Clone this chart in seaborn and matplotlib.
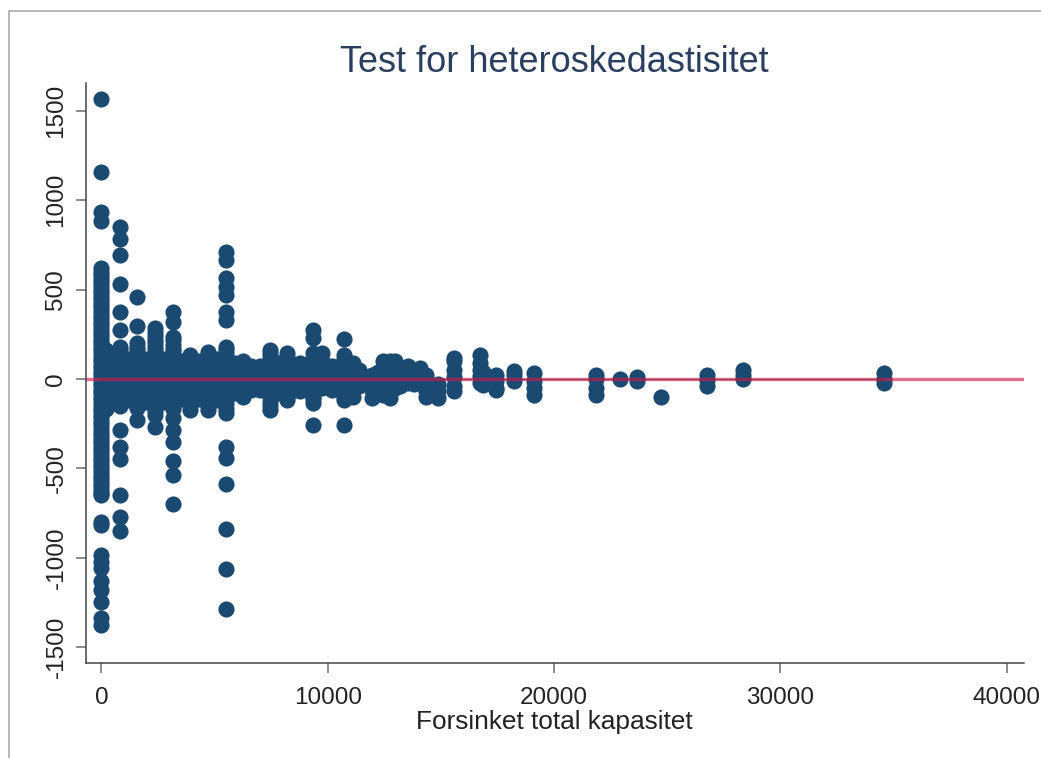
import matplotlib
matplotlib.use('Agg')
import matplotlib.pyplot as plt
import pandas as pd
import seaborn as sns
from matplotlib.lines import Line2D

# lagged capacity -> residuals, one column of dots each
cap_values = [0, 820, 1570, 2365, 3150, 3910, 4720, 5500, 6270, 7450, 8190, 8770,
              9360, 9730, 10700, 11120, 11940, 12450, 12750, 12970, 13550, 14080,
              14340, 14860, 15580, 16730, 16860, 17440, 18230, 19110, 21850, 22910,
              23670, 24740, 26750, 28340, 34580]
residuals = [
    [1565, 1160, 935, 885, 620, 580, 540, 500, 460, 420, 380, 340, 300, 260, 220, 180,
     140, 100, 60, 20, -20, -60, -100, -140, -180, -220, -260, -300, -340, -380, -420,
     -460, -500, -540, -580, -620, -650, -800, -815, -985, -1022, -1060, -1128, -1180,
     -1246, -1338, -1377],
    [852, 782, 693, 531, 377, 274, 180, 140, 100, 60, 20, -20, -60, -100, -150, -285,
     -379, -449, -650, -773, -851],
    [460, 296, 200, 160, 120, 80, 40, 0, -40, -80, -120, -160, -230],
    [285, 240, 200, 160, 120, 80, 40, 0, -40, -80, -120, -160, -200, -267],
    [377, 320, 237, 190, 150, 110, 70, 30, -10, -50, -90, -130, -170, -220, -285, -351,
     -457, -537, -700],
    [134, 90, 50, 10, -30, -70, -110, -173],
    [153, 110, 70, 30, -10, -50, -90, -130, -173],
    [712, 666, 565, 517, 470, 377, 330, 180, 140, 100, 60, 20, -20, -60, -100, -140,
     -190, -379, -442, -587, -840, -1063, -1287],
    [100, 60, 20, -20, -60, -100],
    [162, 120, 80, 40, 0, -40, -80, -130, -173],
    [145, 100, 60, 20, -20, -60, -117],
    [89, 50, 10, -30, -70],
    [274, 229, 145, 100, 60, 20, -20, -60, -100, -134, -257],
    [145, 100, 60, 20, -20, -50],
    [223, 134, 90, 50, 10, -30, -70, -117, -257],
    [89, 50, 10, -30, -70, -100],
    [24, -20, -60, -106],
    [99, 60, 20, -20, -60, -88],
    [99, 60, 20, -20, -60, -106],
    [99, 60, 20, -20, -50],
    [70, 30, -22],
    [62, 20, -20],
    [20, -30, -70, -100],
    [-30, -70, -106],
    [117, 99, 52, 10, -41, -69],
    [136, 90, 52, 15, -22],
    [40, -32],
    [24, -10, -50, -60],
    [43, 20, -13],
    [34, -13, -50, -88],
    [24, 0, -50, -88],
    [0],
    [11, -13],
    [-100],
    [24, -4, -41],
    [52, 24, 0],
    [34, 0, -22],
]
# more dots in the solid band around zero
band_caps = [0, 200, 400, 600, 820, 1200, 1570, 1950, 2365, 2750, 3150, 3530, 3910,
             4300, 4720, 5100, 5500, 5900, 6600, 7000, 7450, 7850, 8190, 8500, 9000,
             9360, 10200, 10700, 11400, 12200, 13200, 13800]
band_values = [
    [600, 560, 520, 480, 440, 400, 360, 320, 280, 240, 200, 160, 120, 80, 40, 0, -40, -80,
     -120, -160, -200, -240, -280, -320, -360, -400, -440, -480, -520, -560, -600, -640],
    [160, 125, 90, 55, 20, -15, -50, -85, -120, -150, -170],
    [130, 95, 60, 25, -10, -45, -80, -110, -130],
    [130, 100, 65, 30, -5, -40, -75, -105, -130],
    [160, 120, 80, 40, 0, -40, -80, -120],
    [110, 75, 40, 5, -30, -65, -100, -120],
    [180, 140, 100, 60, 20, -20, -60, -100, -140],
    [110, 75, 40, 5, -30, -65, -100, -130],
    [265, 220, 180, 140, 100, 60, 20, -20, -60, -100, -140, -180],
    [110, 75, 40, 5, -30, -65, -100, -130],
    [220, 170, 130, 90, 50, 10, -30, -70, -110, -150],
    [100, 65, 30, -5, -40, -75, -110],
    [115, 70, 30, -10, -50, -90, -150],
    [100, 65, 30, -5, -40, -75, -110],
    [135, 90, 50, 10, -30, -70, -110, -150],
    [110, 75, 40, 5, -30, -65, -100, -120],
    [160, 120, 80, 40, 0, -40, -80, -120, -170],
    [90, 55, 20, -15, -50, -80],
    [70, 35, 0, -30, -60],
    [70, 35, 0, -30, -60],
    [140, 100, 60, 20, -20, -60, -100, -150],
    [90, 55, 20, -15, -50, -80],
    [125, 80, 40, 0, -40, -80, -100],
    [80, 45, 10, -25, -60],
    [60, 30, 0, -25, -50],
    [120, 80, 40, 0, -40, -80, -110],
    [70, 35, 0, -30, -60],
    [110, 70, 30, -10, -50, -100],
    [50, 20, -10, -40],
    [40, 10, -20, -50],
    [55, 25, -5, -40],
    [40, 10, -10, -30],
]
x_ticks = [0, 10000, 20000, 30000, 40000]
y_ticks = [-1500, -1000, -500, 0, 500, 1000, 1500]

rows = [(c, r) for c, col in zip(cap_values + band_caps, residuals + band_values) for r in col]
df = pd.DataFrame(rows, columns=['cap', 'resid'])

sns.set_style('white')
plt.rcParams['font.family'] = ['Liberation Sans', 'DejaVu Sans']
plt.rcParams['axes.unicode_minus'] = False

fig = plt.figure(figsize=(10.41, 7.58), dpi=100)
ax = fig.add_axes([85.5 / 1041, 1 - 663 / 758, (1024 - 85.5) / 1041, (663 - 83) / 758])

sns.scatterplot(data=df, x='cap', y='resid', s=135, color='#1a4a72', linewidth=0, ax=ax, zorder=3)

# zero line across the plot, fit on top of it
ax.axhline(0, color='#d02353', lw=2.4, alpha=0.65, zorder=4)
ax.plot([0, 34580], [0, 0], color='#8a1c3c', lw=1.0, alpha=0.6, zorder=5)

ax.set_xlim(-707, 40773)
ax.set_ylim(-1589, 1656)
ax.set_xticks(x_ticks)
ax.set_yticks(y_ticks)
ax.tick_params(axis='x', length=7, width=1.2, color='#777777', labelsize=17.5,
               labelcolor='#222222', bottom=True, pad=10)
ax.tick_params(axis='y', length=7, width=1.2, color='#777777', labelsize=17.5,
               labelcolor='#222222', left=True, pad=6)
for lab in ax.get_yticklabels():
    lab.set_rotation(90)
    lab.set_va('center')
sns.despine(ax=ax)
ax.spines['left'].set_color('#444444')
ax.spines['bottom'].set_color('#444444')
ax.spines['left'].set_linewidth(1.1)
ax.spines['bottom'].set_linewidth(1.1)

ax.set_xlabel('Forsinket total kapasitet', fontsize=18.9, color='#222222', labelpad=1)
ax.set_ylabel('')
ax.set_title('Test for heteroskedastisitet', fontsize=26, color='#2a3f5f', pad=8)

# screenshot frame
fig.add_artist(Line2D([9 / 1041, 1], [1 - 11 / 758, 1 - 11 / 758], color='#aaaaaa', lw=1.2))
fig.add_artist(Line2D([9 / 1041, 9 / 1041], [0, 1 - 11 / 758], color='#aaaaaa', lw=1.2))

fig.savefig('out.png', dpi=100)
